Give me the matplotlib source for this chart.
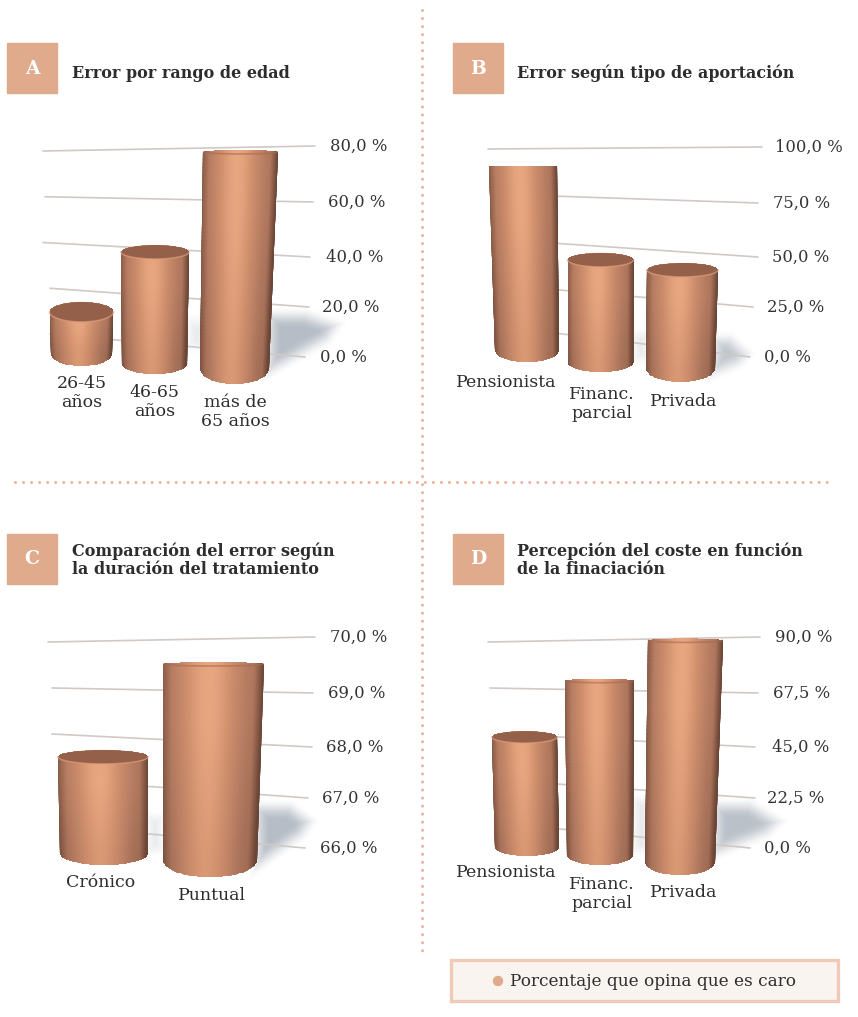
import numpy as np
import matplotlib
matplotlib.use("Agg")
import matplotlib.pyplot as plt
from matplotlib.colors import LinearSegmentedColormap
from matplotlib.patches import Polygon, Rectangle, Ellipse
from matplotlib.ticker import NullLocator

# ---- chart values ----
a_title = "Error por rango de edad"
a_categories = ["26-45\naños", "46-65\naños", "más de\n65 años"]
a_values = [15.5, 40.0, 78.0]
a_ticks = [0, 20, 40, 60, 80]
a_ticklabels = ["0,0 %", "20,0 %", "40,0 %", "60,0 %", "80,0 %"]

b_title = "Error según tipo de aportación"
b_categories = ["Pensionista", "Financ.\nparcial", "Privada"]
b_values = [88.0, 46.0, 43.0]
b_ticks = [0, 25, 50, 75, 100]
b_ticklabels = ["0,0 %", "25,0 %", "50,0 %", "75,0 %", "100,0 %"]

c_title = "Comparación del error según\nla duración del tratamiento"
c_categories = ["Crónico", "Puntual"]
c_values = [67.75, 69.5]
c_ticks = [66, 67, 68, 69, 70]
c_ticklabels = ["66,0 %", "67,0 %", "68,0 %", "69,0 %", "70,0 %"]

d_title = "Percepción del coste en función\nde la finaciación"
d_categories = ["Pensionista", "Financ.\nparcial", "Privada"]
d_values = [46.0, 72.0, 89.0]
d_ticks = [0, 22.5, 45, 67.5, 90]
d_ticklabels = ["0,0 %", "22,5 %", "45,0 %", "67,5 %", "90,0 %"]

legend_label = "Porcentaje que opina que es caro"

# ---- layout, in pixels of the 858x1017 canvas ----
W, H = 858, 1017
SERIF = "DejaVu Serif"
INK = "#2d2d2d"
ACCENT = "#e0aa8c"

# Each cylinder: top centre x, top half width, bottom centre x, bottom half width,
# y of the base centre, pixels per value unit, top ellipse ry, bottom ellipse ry,
# label centre x, y of the label top.
a_bars = [
    (81.5, 32, 81.5, 31, 353, 2.65, 10, 13, 82, 375),
    (155, 34, 154.5, 32.5, 364, 2.80, 7, 10, 155, 384),
    (240.5, 37.5, 234.5, 34.5, 368, 2.77, 2, 16, 235, 394),
]
b_bars = [
    (523, 34, 527, 32, 350, 2.09, 0, 12, 506, 374),
    (600.5, 33, 600.5, 33, 362, 2.22, 7, 10, 602, 386),
    (682.5, 35.5, 680.5, 34.5, 368, 2.28, 7, 14, 684, 393),
]
c_bars = [
    (103, 45, 104, 44, 853, 54.9, 7, 12, 101, 874),
    (213.5, 50.5, 210, 47, 860, 56.0, 2, 17, 212, 887),
]
d_bars = [
    (524.5, 32.5, 527, 32, 847, 2.39, 6, 9, 506, 864),
    (599.5, 34.5, 600, 33, 855, 2.42, 2, 10, 602, 876),
    (685.5, 37.5, 680, 35, 862, 2.49, 2, 13, 684, 884),
]

a_layout = dict(badge=(7, 43), letter="A", title_xy=(72, 73),
                label_x=[320, 322, 326, 328, 330], label_y=[357, 307, 257, 202, 146],
                left_y=(334, 151), grid_x=[(50, 305), (50, 309), (43, 310), (45, 313), (43, 315)])
b_layout = dict(badge=(453, 43), letter="B", title_xy=(517, 73),
                label_x=[764, 767, 772, 773, 775], label_y=[357, 307, 257, 203, 147],
                left_y=(330, 149), grid_x=[(530, 750), (500, 753), (500, 758), (500, 758), (488, 762)])
c_layout = dict(badge=(7, 534), letter="C", title_xy=(72, 560.5),
                label_x=[320, 322, 326, 328, 330], label_y=[848, 798, 747, 693, 637],
                left_y=(826, 642), grid_x=[(60, 305), (60, 308), (52, 312), (52, 313), (48, 315)])
d_layout = dict(badge=(453, 534), letter="D", title_xy=(517, 560.5),
                label_x=[764, 767, 772, 773, 775], label_y=[848, 798, 747, 693, 637],
                left_y=(826, 642), grid_x=[(530, 750), (500, 755), (500, 755), (490, 758), (488, 760)])

# Soft cast shadows, as convex polygons, with their peak opacity.
shadows = [
    ([(270, 316), (305, 316), (334, 326), (326, 338), (270, 370)], 0.85),
    ([(190, 322), (204, 322), (204, 348), (190, 345)], 0.30),
    ([(636, 335), (646, 335), (646, 358), (636, 358)], 0.35),
    ([(716, 340), (730, 340), (745, 354), (738, 362), (714, 372)], 0.75),
    ([(258, 808), (290, 808), (308, 822), (300, 834), (258, 864)], 0.85),
    ([(150, 818), (160, 818), (160, 848), (150, 850)], 0.35),
    ([(716, 806), (750, 806), (776, 822), (766, 832), (716, 852)], 0.80),
    ([(637, 802), (646, 802), (646, 848), (637, 848)], 0.40),
]

copper = LinearSegmentedColormap.from_list(
    "copper_body", ["#6b4636", "#95644f", "#bb8064", "#d3926f", "#e8a680"])

fig = plt.figure(figsize=(W / 100, H / 100), dpi=100, facecolor="white")


def place(x0, x1, y_top, y_bottom):
    """Axes rectangle from canvas pixels (y measured downwards)."""
    return [x0 / W, 1 - y_bottom / H, (x1 - x0) / W, (y_bottom - y_top) / H]


# Canvas-level axes for the furniture: separators, badges, shadows, legend.
canvas = fig.add_axes([0, 0, 1, 1], zorder=0)
canvas.set_xlim(0, W)
canvas.set_ylim(H, 0)
canvas.axis("off")

yy, xx = np.mgrid[0:H, 0:W] + 0.5
shade = np.zeros((H, W))
for corners, peak in shadows:
    pts = np.array(corners, float)
    nxt = np.roll(pts, -1, axis=0)
    edge = nxt - pts
    normal = np.stack([-edge[:, 1], edge[:, 0]], axis=1)
    normal /= np.linalg.norm(normal, axis=1, keepdims=True)
    dist = np.min([(xx - p[0]) * n[0] + (yy - p[1]) * n[1] for p, n in zip(pts, normal)], axis=0)
    # Feather across the outline, both inwards and outwards.
    ramp = np.clip((dist + 10.0) / 22.0, 0, 1)
    shade = np.maximum(shade, peak * ramp * ramp * (3 - 2 * ramp))
rgba = np.zeros((H, W, 4))
rgba[..., :3] = np.array([0.67, 0.70, 0.74])
rgba[..., 3] = shade
canvas.imshow(rgba, extent=(0, W, H, 0), aspect="auto", interpolation="bilinear", zorder=1)
canvas.set_xlim(0, W)
canvas.set_ylim(H, 0)

dot_style = dict(color="#e5b79f", lw=2.2, linestyle=(0, (0.01, 2.62)),
                 dash_capstyle="round", zorder=2)
canvas.plot([421.5, 421.5], [10, 956], **dot_style)
canvas.plot([15, 832], [481.5, 481.5], **dot_style)

canvas.add_patch(Rectangle((451, 959.5), 387, 41, facecolor="#f9f4ef",
                           edgecolor="#efcbb7", lw=2.4, zorder=2))
canvas.add_patch(Ellipse((498, 981), 9, 9, color=ACCENT, zorder=3))
canvas.text(510.5, 981.5, legend_label, family=SERIF, fontsize=12.2, color=INK,
            va="center", ha="left", zorder=3)


def cylinder(ax_z, value, floor, geom, label):
    cx_t, hw_t, cx_b, hw_b, base_y, px, ry_t, ry_b, lab_x, lab_top = geom
    top_y = base_y - (value - floor) * px
    x0 = min(cx_t - hw_t, cx_b - hw_b, lab_x) - 3
    x1 = max(cx_t + hw_t, cx_b + hw_b, lab_x) + 3
    y_top = top_y - ry_t - 3
    y_bot = base_y + ry_b + 3
    ax = fig.add_axes(place(x0, x1, y_top, y_bot), zorder=ax_z)
    ax.patch.set_alpha(0)
    for s in ax.spines.values():
        s.set_visible(False)
    ax.set_xlim(x0, x1)
    ax.set_ylim(floor - (y_bot - base_y) / px, value + (top_y - y_top) / px)
    ax.set_yticks([])
    ax.set_xticks([lab_x], [label], family=SERIF, fontsize=12.5, color=INK, linespacing=1.15)
    ax.tick_params(axis="x", length=0, pad=(lab_top - y_bot) * 0.72)

    # Shaded body: a broad mid tone, a central highlight and a narrow dark rim.
    u = np.linspace(-1.08, 1.08, 120)
    v = np.linspace(ax.get_ylim()[0], ax.get_ylim()[1], 60)
    U, V = np.meshgrid(u, v)
    f = (V - floor) / max(value - floor, 1e-6)
    X = (cx_b + (cx_t - cx_b) * f) + U * (hw_b + (hw_t - hw_b) * f)
    light = 0.50 + 0.50 * np.exp(-((U + 0.08) / 0.55) ** 2)
    light = light * (0.86 + 0.14 * np.clip(f * 1.4, 0, 1))
    rim = np.clip((np.abs(U) - 0.82) / 0.18, 0, 1)
    light = light - np.where(U < 0, 0.18, 0.30) * rim
    mesh = ax.pcolormesh(X, V, light, cmap=copper, vmin=0.2, vmax=1.0,
                         shading="gouraud", zorder=1, rasterized=True)

    # Silhouette of the cylinder, in value units on y.
    a = np.linspace(np.pi, 0, 50)
    top = np.column_stack([cx_t + hw_t * np.cos(a), value + ry_t / px * np.sin(a)])
    low = np.column_stack([cx_b + hw_b * np.cos(a[::-1]), floor - ry_b / px * np.sin(a[::-1])])
    outline = np.vstack([top, low])
    mesh.set_clip_path(Polygon(outline, closed=True, transform=ax.transData))

    b = np.linspace(np.pi, 2 * np.pi, 50)
    if ry_t >= 4:
        ax.add_patch(Ellipse((cx_t, value), 2 * hw_t - 1, 2 * ry_t / px,
                             facecolor="#95604a", edgecolor="none", zorder=2))
        ax.plot(cx_t + hw_t * np.cos(b), value + ry_t / px * np.sin(b),
                color="#dd9d7b", lw=1.1, alpha=0.7, zorder=3)
    elif ry_t > 0:
        ax.plot(cx_t + hw_t * 0.98 * np.cos(b), value + ry_t / px * np.sin(b),
                color="#a8694f", lw=1.2, alpha=0.6, zorder=3)
    return ax


def panel(title, categories, values, ticks, ticklabels, layout, bars):
    # Badge and heading
    bx, by = layout["badge"]
    canvas.add_patch(Rectangle((bx, by), 50, 50, color=ACCENT, zorder=2))
    canvas.text(bx + 25, by + 25.5, layout["letter"], family=SERIF, fontweight="bold",
                fontsize=13.5, color="white", ha="center", va="center", zorder=3)
    canvas.text(*layout["title_xy"], title, family=SERIF, fontweight="bold", fontsize=11.5,
                color=INK, ha="left", va="center", linespacing=1.05, zorder=3)

    # Value axis: the perspective squeezes the ticks a little unevenly.
    ly = np.array(layout["label_y"], float)
    tv = np.array(ticks, float)
    forward = lambda q: np.interp(q, tv, -ly)
    inverse = lambda q: np.interp(q, -ly, tv)
    x0, x1 = min(g[0] for g in layout["grid_x"]), max(g[1] for g in layout["grid_x"])
    ax = fig.add_axes(place(x0, x1, ly[-1], ly[0]), zorder=1)
    ax.patch.set_alpha(0)
    for s in ax.spines.values():
        s.set_visible(False)
    ax.set_xlim(x0, x1)
    ax.set_yscale("function", functions=(forward, inverse))
    ax.set_ylim(tv[0], tv[-1])
    ax.set_xticks([])
    ax.yaxis.tick_right()
    ax.set_yticks(tv, ticklabels, family=SERIF, fontsize=11.8, color="#333333", va="center")
    ax.yaxis.set_minor_locator(NullLocator())
    ax.tick_params(axis="y", length=0, pad=0)
    for tick, lx in zip(ax.yaxis.get_major_ticks(), layout["label_x"]):
        tick.label2.set_x((lx - x0) / (x1 - x0))
        tick.label2.set_ha("left")

    # Fanned gridlines: they run from the back wall on the left to the ticks on the right.
    back = np.interp(tv, [tv[0], tv[-1]], layout["left_y"])
    for t, yl, (xl, xr) in zip(tv, back, layout["grid_x"]):
        ax.plot([xl, xr], [inverse(-yl), t], color="#d0c9c5", lw=1.2, clip_on=False,
                solid_capstyle="round", zorder=1)

    # Cylinders, from the rearmost forwards.
    for i, (cat, val, geom) in enumerate(zip(categories, values, bars)):
        cylinder(3 + i, val, tv[0], geom, cat)


panel(a_title, a_categories, a_values, a_ticks, a_ticklabels, a_layout, a_bars)
panel(b_title, b_categories, b_values, b_ticks, b_ticklabels, b_layout, b_bars)
panel(c_title, c_categories, c_values, c_ticks, c_ticklabels, c_layout, c_bars)
panel(d_title, d_categories, d_values, d_ticks, d_ticklabels, d_layout, d_bars)

fig.savefig("out.png", dpi=100, facecolor="white")
